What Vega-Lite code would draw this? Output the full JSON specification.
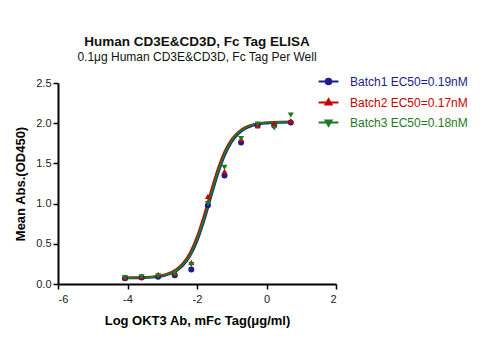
{
  "$schema": "https://vega.github.io/schema/vega-lite/v6.json",
  "width": 278,
  "height": 201,
  "autosize": {"type": "none"},
  "padding": {"left": 58, "top": 83, "right": 144, "bottom": 58},
  "background": "white",
  "config": {
    "view": {"stroke": null},
    "font": "Liberation Sans",
    "axis": {
      "domainColor": "black", "domainWidth": 2, "tickColor": "black", "tickWidth": 1.5, "tickSize": 5,
      "labelFont": "Liberation Sans", "labelFontSize": 11, "labelColor": "#222",
      "titleFont": "Liberation Sans", "titleFontSize": 13, "titleFontWeight": "bold", "titleColor": "black",
      "grid": false
    }
  },
  "title": {
    "text": "Human CD3E&CD3D, Fc Tag ELISA",
    "subtitle": "0.1μg Human CD3E&CD3D, Fc Tag Per Well",
    "anchor": "middle", "frame": "group",
    "font": "Liberation Sans", "fontSize": 13.5, "fontWeight": "bold", "color": "#111",
    "subtitleFont": "Liberation Sans", "subtitleFontSize": 12, "subtitleColor": "#111", "subtitlePadding": 4,
    "offset": 10
  },
  "datasets": {
    "points": [
      {"x": 0.699, "y": 2.01, "batch": "Batch1 EC50=0.19nM"},
      {"x": 0.222, "y": 1.97, "batch": "Batch1 EC50=0.19nM"},
      {"x": -0.255, "y": 1.97, "batch": "Batch1 EC50=0.19nM"},
      {"x": -0.732, "y": 1.76, "batch": "Batch1 EC50=0.19nM"},
      {"x": -1.209, "y": 1.35, "batch": "Batch1 EC50=0.19nM"},
      {"x": -1.686, "y": 0.98, "batch": "Batch1 EC50=0.19nM"},
      {"x": -2.164, "y": 0.18, "batch": "Batch1 EC50=0.19nM"},
      {"x": -2.641, "y": 0.11, "batch": "Batch1 EC50=0.19nM"},
      {"x": -3.118, "y": 0.09, "batch": "Batch1 EC50=0.19nM"},
      {"x": -3.595, "y": 0.08, "batch": "Batch1 EC50=0.19nM"},
      {"x": -4.072, "y": 0.07, "batch": "Batch1 EC50=0.19nM"},
      {"x": 0.699, "y": 2.03, "batch": "Batch2 EC50=0.17nM"},
      {"x": 0.222, "y": 2.0, "batch": "Batch2 EC50=0.17nM"},
      {"x": -0.255, "y": 1.97, "batch": "Batch2 EC50=0.17nM"},
      {"x": -0.732, "y": 1.8, "batch": "Batch2 EC50=0.17nM"},
      {"x": -1.209, "y": 1.4, "batch": "Batch2 EC50=0.17nM"},
      {"x": -1.686, "y": 1.09, "batch": "Batch2 EC50=0.17nM"},
      {"x": -2.164, "y": 0.27, "batch": "Batch2 EC50=0.17nM"},
      {"x": -2.641, "y": 0.13, "batch": "Batch2 EC50=0.17nM"},
      {"x": -3.118, "y": 0.12, "batch": "Batch2 EC50=0.17nM"},
      {"x": -3.595, "y": 0.09, "batch": "Batch2 EC50=0.17nM"},
      {"x": -4.072, "y": 0.08, "batch": "Batch2 EC50=0.17nM"},
      {"x": 0.699, "y": 2.1, "batch": "Batch3 EC50=0.18nM"},
      {"x": 0.222, "y": 1.94, "batch": "Batch3 EC50=0.18nM"},
      {"x": -0.255, "y": 1.99, "batch": "Batch3 EC50=0.18nM"},
      {"x": -0.732, "y": 1.81, "batch": "Batch3 EC50=0.18nM"},
      {"x": -1.209, "y": 1.45, "batch": "Batch3 EC50=0.18nM"},
      {"x": -1.686, "y": 1.0, "batch": "Batch3 EC50=0.18nM"},
      {"x": -2.164, "y": 0.24, "batch": "Batch3 EC50=0.18nM"},
      {"x": -2.641, "y": 0.13, "batch": "Batch3 EC50=0.18nM"},
      {"x": -3.118, "y": 0.1, "batch": "Batch3 EC50=0.18nM"},
      {"x": -3.595, "y": 0.09, "batch": "Batch3 EC50=0.18nM"},
      {"x": -4.072, "y": 0.08, "batch": "Batch3 EC50=0.18nM"}
    ],
    "curves": [
      {"x": -4.1, "y": 0.071, "batch": "Batch1 EC50=0.19nM"},
      {"x": -3.8, "y": 0.072, "batch": "Batch1 EC50=0.19nM"},
      {"x": -3.5, "y": 0.076, "batch": "Batch1 EC50=0.19nM"},
      {"x": -3.2, "y": 0.084, "batch": "Batch1 EC50=0.19nM"},
      {"x": -2.9, "y": 0.106, "batch": "Batch1 EC50=0.19nM"},
      {"x": -2.6, "y": 0.158, "batch": "Batch1 EC50=0.19nM"},
      {"x": -2.4, "y": 0.228, "batch": "Batch1 EC50=0.19nM"},
      {"x": -2.2, "y": 0.344, "batch": "Batch1 EC50=0.19nM"},
      {"x": -2.0, "y": 0.525, "batch": "Batch1 EC50=0.19nM"},
      {"x": -1.8, "y": 0.775, "batch": "Batch1 EC50=0.19nM"},
      {"x": -1.6, "y": 1.07, "batch": "Batch1 EC50=0.19nM"},
      {"x": -1.4, "y": 1.359, "batch": "Batch1 EC50=0.19nM"},
      {"x": -1.2, "y": 1.596, "batch": "Batch1 EC50=0.19nM"},
      {"x": -1.0, "y": 1.763, "batch": "Batch1 EC50=0.19nM"},
      {"x": -0.8, "y": 1.869, "batch": "Batch1 EC50=0.19nM"},
      {"x": -0.6, "y": 1.932, "batch": "Batch1 EC50=0.19nM"},
      {"x": -0.4, "y": 1.967, "batch": "Batch1 EC50=0.19nM"},
      {"x": -0.2, "y": 1.987, "batch": "Batch1 EC50=0.19nM"},
      {"x": 0.0, "y": 1.997, "batch": "Batch1 EC50=0.19nM"},
      {"x": 0.2, "y": 2.003, "batch": "Batch1 EC50=0.19nM"},
      {"x": 0.4, "y": 2.006, "batch": "Batch1 EC50=0.19nM"},
      {"x": 0.7, "y": 2.009, "batch": "Batch1 EC50=0.19nM"},
      {"x": -4.1, "y": 0.081, "batch": "Batch2 EC50=0.17nM"},
      {"x": -3.8, "y": 0.083, "batch": "Batch2 EC50=0.17nM"},
      {"x": -3.5, "y": 0.087, "batch": "Batch2 EC50=0.17nM"},
      {"x": -3.2, "y": 0.097, "batch": "Batch2 EC50=0.17nM"},
      {"x": -2.9, "y": 0.122, "batch": "Batch2 EC50=0.17nM"},
      {"x": -2.6, "y": 0.182, "batch": "Batch2 EC50=0.17nM"},
      {"x": -2.4, "y": 0.262, "batch": "Batch2 EC50=0.17nM"},
      {"x": -2.2, "y": 0.393, "batch": "Batch2 EC50=0.17nM"},
      {"x": -2.0, "y": 0.592, "batch": "Batch2 EC50=0.17nM"},
      {"x": -1.8, "y": 0.857, "batch": "Batch2 EC50=0.17nM"},
      {"x": -1.6, "y": 1.155, "batch": "Batch2 EC50=0.17nM"},
      {"x": -1.4, "y": 1.435, "batch": "Batch2 EC50=0.17nM"},
      {"x": -1.2, "y": 1.655, "batch": "Batch2 EC50=0.17nM"},
      {"x": -1.0, "y": 1.805, "batch": "Batch2 EC50=0.17nM"},
      {"x": -0.8, "y": 1.898, "batch": "Batch2 EC50=0.17nM"},
      {"x": -0.6, "y": 1.953, "batch": "Batch2 EC50=0.17nM"},
      {"x": -0.4, "y": 1.983, "batch": "Batch2 EC50=0.17nM"},
      {"x": -0.2, "y": 2.0, "batch": "Batch2 EC50=0.17nM"},
      {"x": 0.0, "y": 2.009, "batch": "Batch2 EC50=0.17nM"},
      {"x": 0.2, "y": 2.014, "batch": "Batch2 EC50=0.17nM"},
      {"x": 0.4, "y": 2.017, "batch": "Batch2 EC50=0.17nM"},
      {"x": 0.7, "y": 2.019, "batch": "Batch2 EC50=0.17nM"},
      {"x": -4.1, "y": 0.076, "batch": "Batch3 EC50=0.18nM"},
      {"x": -3.8, "y": 0.077, "batch": "Batch3 EC50=0.18nM"},
      {"x": -3.5, "y": 0.081, "batch": "Batch3 EC50=0.18nM"},
      {"x": -3.2, "y": 0.09, "batch": "Batch3 EC50=0.18nM"},
      {"x": -2.9, "y": 0.113, "batch": "Batch3 EC50=0.18nM"},
      {"x": -2.6, "y": 0.169, "batch": "Batch3 EC50=0.18nM"},
      {"x": -2.4, "y": 0.243, "batch": "Batch3 EC50=0.18nM"},
      {"x": -2.2, "y": 0.365, "batch": "Batch3 EC50=0.18nM"},
      {"x": -2.0, "y": 0.554, "batch": "Batch3 EC50=0.18nM"},
      {"x": -1.8, "y": 0.81, "batch": "Batch3 EC50=0.18nM"},
      {"x": -1.6, "y": 1.108, "batch": "Batch3 EC50=0.18nM"},
      {"x": -1.4, "y": 1.394, "batch": "Batch3 EC50=0.18nM"},
      {"x": -1.2, "y": 1.625, "batch": "Batch3 EC50=0.18nM"},
      {"x": -1.0, "y": 1.786, "batch": "Batch3 EC50=0.18nM"},
      {"x": -0.8, "y": 1.887, "batch": "Batch3 EC50=0.18nM"},
      {"x": -0.6, "y": 1.946, "batch": "Batch3 EC50=0.18nM"},
      {"x": -0.4, "y": 1.979, "batch": "Batch3 EC50=0.18nM"},
      {"x": -0.2, "y": 1.998, "batch": "Batch3 EC50=0.18nM"},
      {"x": 0.0, "y": 2.008, "batch": "Batch3 EC50=0.18nM"},
      {"x": 0.2, "y": 2.013, "batch": "Batch3 EC50=0.18nM"},
      {"x": 0.4, "y": 2.016, "batch": "Batch3 EC50=0.18nM"},
      {"x": 0.7, "y": 2.019, "batch": "Batch3 EC50=0.18nM"}
    ]
  },
  "layer": [
    {
      "data": {"name": "curves"},
      "mark": {"type": "line", "interpolate": "monotone", "strokeWidth": 2},
      "encoding": {
        "x": {"field": "x", "type": "quantitative", "scale": {"domain": [-6, 2], "nice": false},
          "axis": {"values": [-6, -4, -2, 0, 2], "labelExpr": "'' + datum.value", "title": "Log OKT3 Ab, mFc Tag(μg/ml)", "titlePadding": 10, "labelPadding": 4}},
        "y": {"field": "y", "type": "quantitative", "scale": {"domain": [0, 2.5], "nice": false},
          "axis": {"values": [0, 0.5, 1, 1.5, 2, 2.5], "format": ".1f", "title": "Mean Abs.(OD450)", "titlePadding": 8, "labelPadding": 2}},
        "stroke": {"field": "batch", "type": "nominal",
          "scale": {"domain": ["Batch1 EC50=0.19nM", "Batch2 EC50=0.17nM", "Batch3 EC50=0.18nM"], "range": ["#1c1c8e", "#c80000", "#1e7a1e"]},
          "legend": {
            "orient": "none", "legendX": 262, "legendY": -10, "title": null,
            "padding": 0, "rowPadding": 5, "labelFontSize": 12, "labelFont": "Liberation Sans",
            "symbolSize": 200, "symbolStrokeWidth": 2, "labelOffset": 13,
            "encode": {
              "labels": {"update": {"fill": {"signal": "scale('stroke', datum.value)"}}},
              "symbols": {"update": {
                "shape": {"signal": "datum.value === 'Batch1 EC50=0.19nM' ? 'M-1.4,0H1.4M-0.4,0A0.4,0.4 0 1,0 0.4,0A0.4,0.4 0 1,0 -0.4,0Z' : datum.value === 'Batch2 EC50=0.17nM' ? 'M-1.4,0H1.4M0,-0.45L0.42,0.3L-0.42,0.3Z' : 'M-1.4,0H1.4M0,0.45L0.42,-0.3L-0.42,-0.3Z'"},
                "fill": {"signal": "scale('stroke', datum.value)"},
                "stroke": {"signal": "scale('stroke', datum.value)"},
                "strokeWidth": {"value": 2},
                "opacity": {"value": 1}
              }}
            }
          }
        }
      }
    },
    {
      "data": {"name": "points"},
      "transform": [{"filter": "datum.batch === 'Batch1 EC50=0.19nM'"}],
      "mark": {"type": "point", "shape": "circle", "filled": true, "color": "#1c1c8e", "size": 36, "opacity": 1},
      "encoding": {
        "x": {"field": "x", "type": "quantitative"},
        "y": {"field": "y", "type": "quantitative"}
      }
    },
    {
      "data": {"name": "points"},
      "transform": [{"filter": "datum.batch === 'Batch2 EC50=0.17nM'"}],
      "mark": {"type": "point", "shape": "triangle-up", "filled": true, "color": "#c80000", "size": 36, "opacity": 1},
      "encoding": {
        "x": {"field": "x", "type": "quantitative"},
        "y": {"field": "y", "type": "quantitative"}
      }
    },
    {
      "data": {"name": "points"},
      "transform": [{"filter": "datum.batch === 'Batch3 EC50=0.18nM'"}],
      "mark": {"type": "point", "shape": "triangle-down", "filled": true, "color": "#1e7a1e", "size": 36, "opacity": 1},
      "encoding": {
        "x": {"field": "x", "type": "quantitative"},
        "y": {"field": "y", "type": "quantitative"}
      }
    }
  ]
}
